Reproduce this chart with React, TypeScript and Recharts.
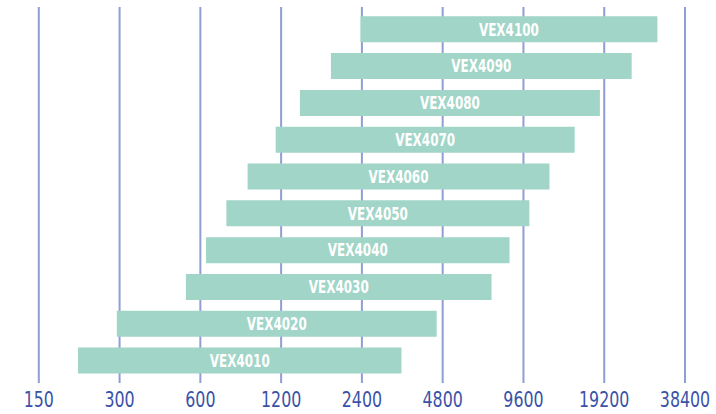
import React from "react";
import { BarChart, Bar, XAxis, YAxis, CartesianGrid, LabelList } from "recharts";

const models = ["VEX4100", "VEX4090", "VEX4080", "VEX4070", "VEX4060", "VEX4050", "VEX4040", "VEX4030", "VEX4020", "VEX4010"];
const lows = [2370, 1840, 1410, 1145, 900, 750, 630, 530, 293, 210];
const highs = [30300, 24300, 18500, 14900, 12000, 10100, 8520, 7300, 4560, 3370];
const xTicks = [150, 300, 600, 1200, 2400, 4800, 9600, 19200, 38400];

const data = models.map((name, i) => ({ name, range: [lows[i], highs[i]] }));

const FONT = '"DejaVu Sans Condensed", "Liberation Sans Narrow", sans-serif';

const Tick = (props: any) => {
  const { x, y, payload } = props;
  return (
    <text
      transform={`translate(${x},${y}) scale(0.8,1)`}
      textAnchor="middle"
      dy="0.71em"
      fill="#3a52a8"
      fontSize={22}
      fontFamily={FONT}
    >
      {payload.value}
    </text>
  );
};

const BarLabel = (props: any) => {
  const { x, y, width, height, value } = props;
  const cx = Number(x) + Number(width) / 2;
  const cy = Number(y) + Number(height) / 2;
  return (
    <text
      transform={`translate(${cx},${cy}) scale(0.72,1)`}
      textAnchor="middle"
      dominantBaseline="central"
      fill="#ffffff"
      fontSize={18.5}
      fontWeight="bold"
      fontFamily={FONT}
    >
      {value}
    </text>
  );
};

export default function App() {
  return (
    <div style={{ position: "absolute", left: 0, top: 0, width: 716, height: 414, background: "#fff" }}>
      <BarChart
        width={716}
        height={414}
        data={data}
        layout="vertical"
        margin={{ top: 7, right: 31, bottom: 0, left: 38.8 }}
      >
        <CartesianGrid horizontal={false} stroke="#8f9ed3" strokeWidth={2} />
        <XAxis
          type="number"
          scale="log"
          domain={[150, 38400]}
          ticks={xTicks}
          allowDataOverflow
          axisLine={false}
          tickLine={false}
          height={31}
          interval={0}
          tick={<Tick />}
        />
        <YAxis type="category" dataKey="name" hide padding={{ top: 4.3, bottom: 3.6 }} />
        <Bar dataKey="range" fill="#a1d5c7" barSize={26} isAnimationActive={false}>
          <LabelList dataKey="name" position="center" content={<BarLabel />} />
        </Bar>
      </BarChart>
    </div>
  );
}
